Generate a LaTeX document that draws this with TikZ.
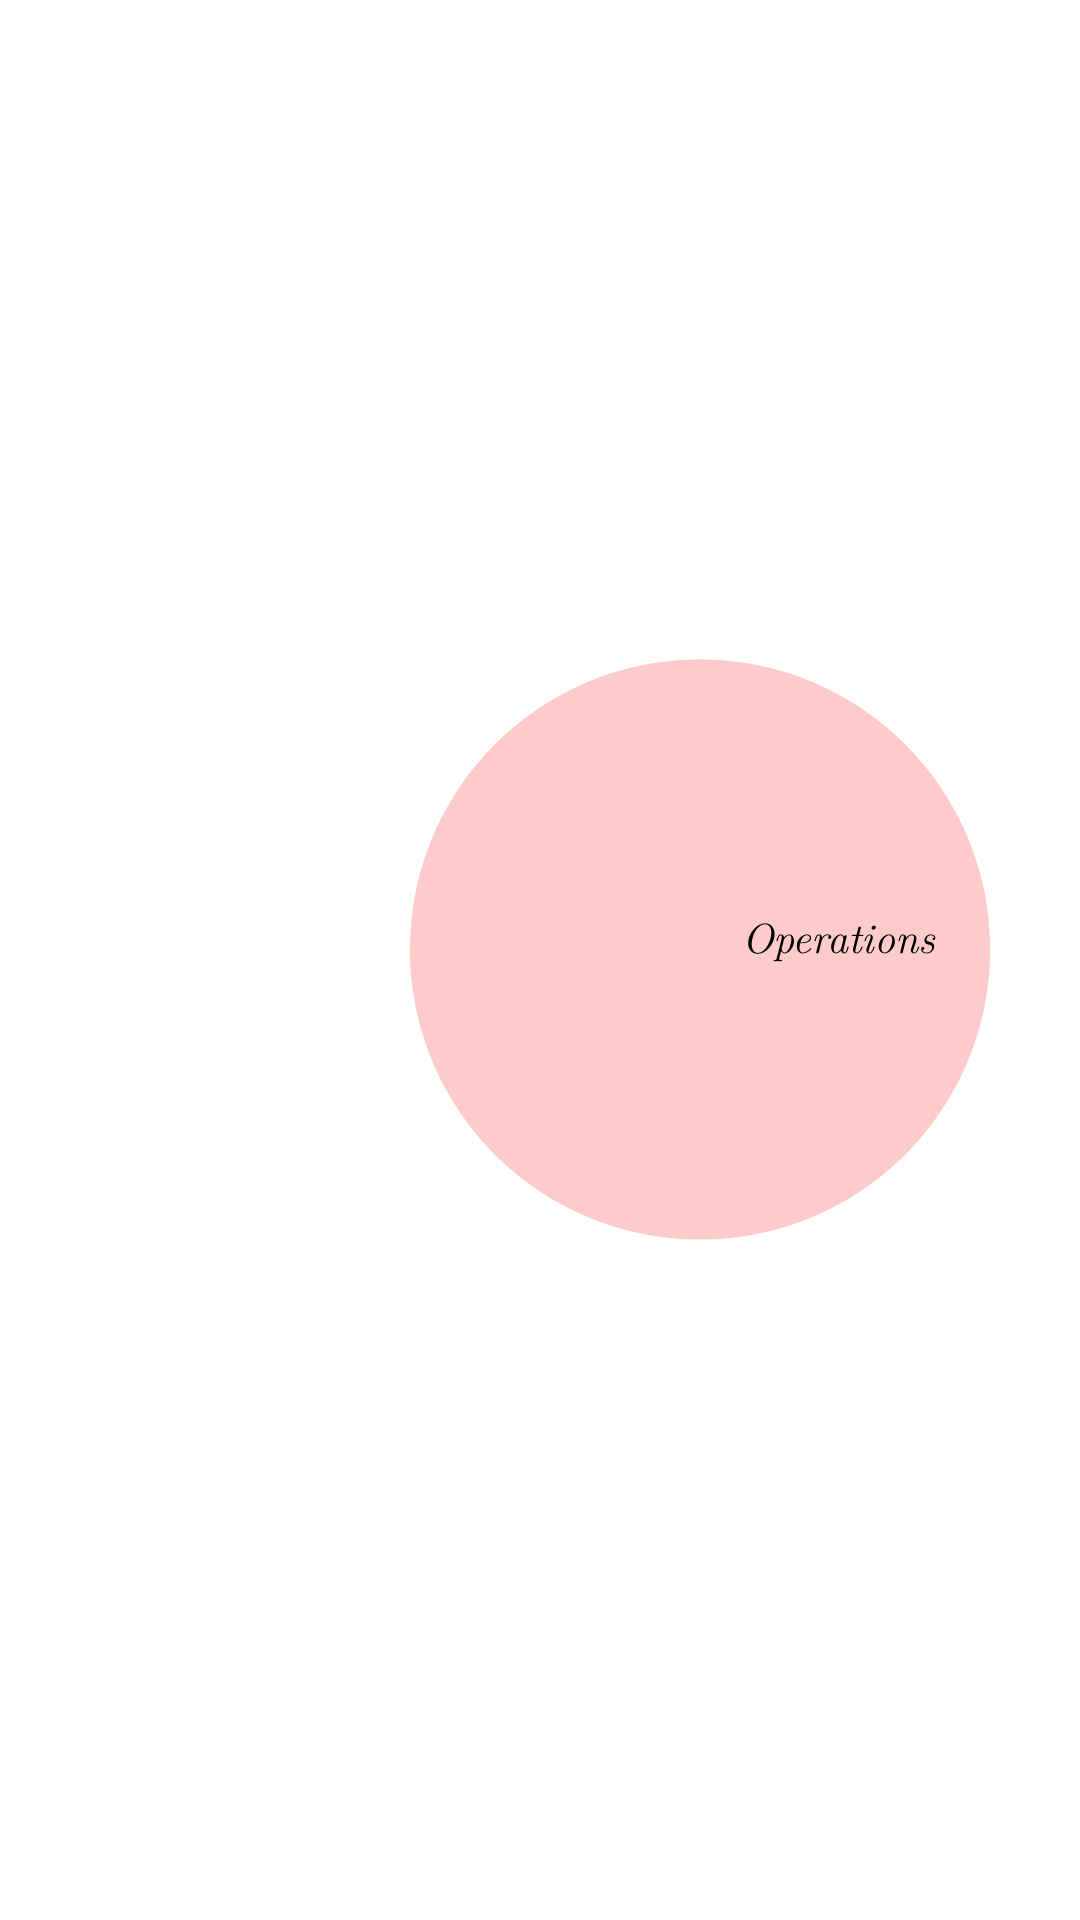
\documentclass[tikz,border=0pt]{standalone}
\definecolor{blobpink}{HTML}{FECBCB}
\tikzset{
  blob/.style={circle, fill=blobpink, draw=none, minimum size=5.8cm, inner sep=0pt},
  lbl/.style={font=\fontsize{12}{14}\selectfont\itshape, text=black, inner sep=0pt, anchor=base}
}
\begin{document}
\begin{tikzpicture}
\useasboundingbox[fill=white] (0,0) rectangle (10.8,19.2);
\node[blob] (ops) at (7.00,9.705) {};
\node[lbl] (opslabel) at (8.39,9.66) {Operations};
\end{tikzpicture}
\end{document}
